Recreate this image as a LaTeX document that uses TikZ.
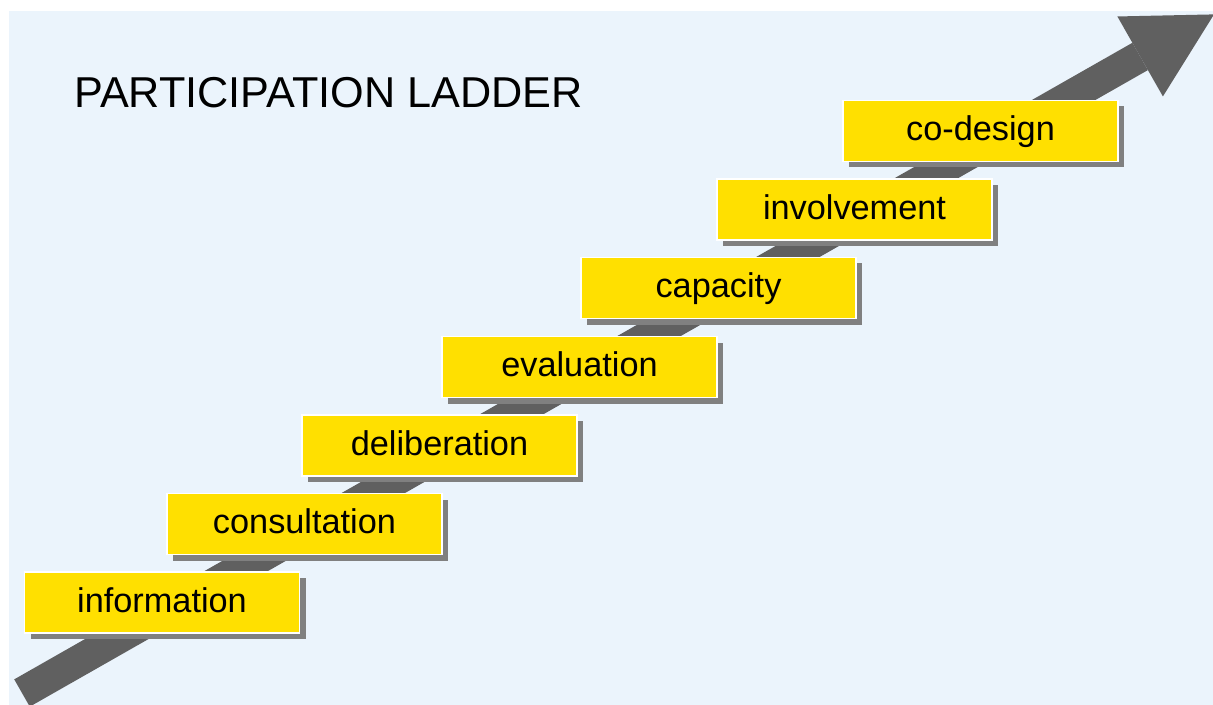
\documentclass[tikz,border=0pt]{standalone}
\usepackage{fontspec}
\setmainfont{Liberation Sans}
\usetikzlibrary{arrows.meta,shadows}
\definecolor{ladderbg}{RGB}{235,244,252}
\definecolor{rungyellow}{RGB}{255,224,0}
\definecolor{shaftgray}{RGB}{96,96,96}
\definecolor{shadowgray}{RGB}{128,128,128}

\begin{document}
\begin{tikzpicture}
  [x=0.5pt,y=-0.5pt,
   rung/.style={rectangle,fill=rungyellow,draw=white,line width=0.75pt,
     minimum width=137.5pt,minimum height=30.5pt,inner sep=0pt,
     text height=12pt,text depth=2.2pt,font=\fontsize{17.15}{20}\selectfont,
     drop shadow={shadow xshift=3pt,shadow yshift=-3pt,fill=shadowgray,opacity=1}},
   bigarrow/.style={draw=shaftgray,line width=15.7pt,
     -{Triangle[length=42.5pt,width=46pt,line width=0pt]}}]
  \useasboundingbox (0,0) rectangle (1213,705);
  \fill[ladderbg] (9,11) rectangle (1213,705);

  \coordinate (tail) at (22,693);
  \coordinate (tip)  at (1214,14.4);
  \draw[bigarrow] (tail) -- (tip);

  \node[anchor=base west,inner sep=0pt,font=\fontsize{21.6}{26}\selectfont]
    (title) at (74,108) {PARTICIPATION LADDER};

  \node[rung] (information)  at (162,602.5)  {information};
  \node[rung] (consultation) at (304.5,524)  {consultation};
  \node[rung] (deliberation) at (439.5,445.5) {deliberation};
  \node[rung] (evaluation)   at (579.5,367)  {evaluation};
  \node[rung] (capacity)     at (718.5,288)  {capacity};
  \node[rung] (involvement)  at (854.5,209.5) {involvement};
  \node[rung] (codesign)     at (980.5,131)  {co-design};

\end{tikzpicture}
\end{document}
